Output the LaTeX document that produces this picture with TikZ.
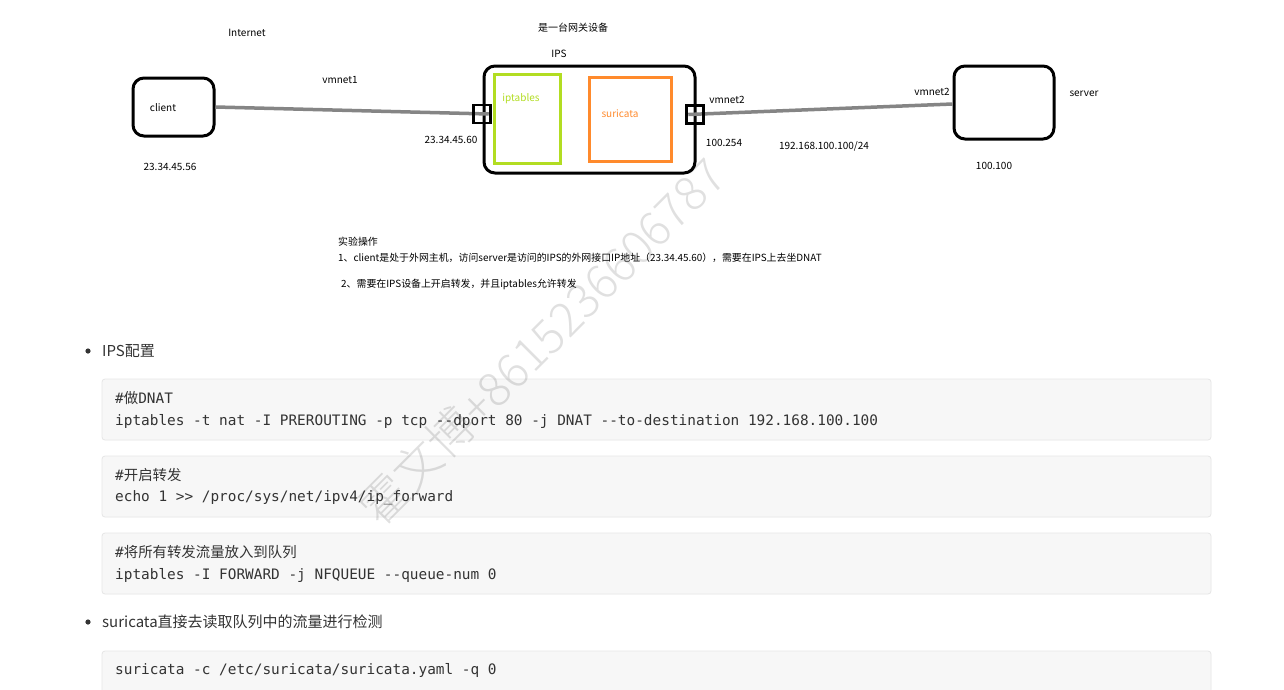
\documentclass[tikz,border=0pt]{standalone}
\usepackage{fontspec}
\setmainfont{Noto Sans CJK SC}
\newfontfamily\cjk{Noto Sans CJK SC}
\newfontfamily\wmfont{Noto Sans CJK SC Light}
\newfontfamily\codefont{DejaVu Sans Mono}
\definecolor{lime}{HTML}{B2DD22}
\definecolor{orng}{HTML}{FF8A2C}
\definecolor{wire}{HTML}{858585}
\definecolor{codebg}{HTML}{F7F7F7}
\definecolor{codeln}{HTML}{E6E6E6}
\definecolor{txt}{HTML}{333333}
\begin{document}
\begin{tikzpicture}[x=1pt,y=-1pt,
  dev/.style={draw=black,line width=3pt,rounded corners=11pt,inner sep=0pt},
  inbox/.style={line width=3pt,inner sep=0pt},
  port/.style={draw=black,line width=2.5pt,inner sep=0pt,minimum width=17pt,minimum height=18pt},
  lbl/.style={font=\fontsize{10}{12}\selectfont,inner sep=0pt},
  cablestyle/.style={draw=wire,line width=3.5pt},
  codebox/.style={draw=codeln,fill=codebg,line width=0.8pt,rounded corners=3pt},
  code/.style={font=\codefont\fontsize{14.4}{16}\selectfont,text=txt,anchor=west,inner sep=0pt},
  body/.style={font=\fontsize{15}{18}\selectfont,text=txt,anchor=west,inner sep=0pt},
  note/.style={font=\fontsize{9.9}{12}\selectfont,anchor=west,inner sep=0pt}]
\useasboundingbox (0,0) rectangle (1284,689);
\fill[white] (0,0) rectangle (1284,689);

% devices
\node[dev,minimum width=81pt,minimum height=58pt] (client) at (173.5,107) {};
\node[lbl] (clientlbl) at (163,108) {client};
\node[lbl] (clientip) at (170,167) {23.34.45.56};
\node[lbl] (internet) at (247,33) {Internet};
\node[lbl] (vm1) at (340,80) {vmnet1};

\node[dev,minimum width=211pt,minimum height=107pt] (ips) at (589.5,119.5) {};
\node[lbl] (ipslbl) at (559,54) {IPS};
\node[lbl] (gw) at (573,28) {是一台网关设备};
\node[inbox,draw=lime,minimum width=66pt,minimum height=89pt] (iptables) at (527,118.5) {};
\node[lbl,text=lime] (iptlbl) at (521,99) {iptables};
\node[inbox,draw=orng,minimum width=82pt,minimum height=84pt] (suricata) at (630,119) {};
\node[lbl,text=orng] (surlbl) at (620,114) {suricata};

\node[dev,minimum width=100pt,minimum height=73pt] (server) at (1004,102.5) {};
\node[lbl] (serverlbl) at (1084,94) {server};
\node[lbl] (serverip) at (994,166) {100.100};
\node[lbl] (vm2b) at (932,92) {vmnet2};

\node[lbl] (ipl) at (451,140) {23.34.45.60};
\node[lbl] (vm2a) at (727,100) {vmnet2};
\node[lbl] (ipr) at (724,143) {100.254};
\node[lbl] (net2) at (824,146) {192.168.100.100/24};

% cables
\path (482,114) node[port] (portL) {};
\path (695,114.5) node[port] (portR) {};
\draw[cablestyle] (client.east) -- ([xshift=-3pt]portL.east);
\draw[cablestyle] ([xshift=3pt]portR.west) -- (server.west |- 0,104);
\node[port] at (portL) {};
\node[port] at (portR) {};

% notes
\node[note] (n0) at (338,242) {实验操作};
\node[note] (n1) at (338,258) {1、client是处于外网主机，访问server是访问的IPS的外网接口IP地址（23.34.45.60），需要在IPS上去坐DNAT};
\node[note] (n2) at (341,284) {2、需要在IPS设备上开启转发，并且iptables允许转发};

% body
\fill[txt] (88,351) circle (2.6pt);
\node[body] (b1) at (102,351) {IPS配置};

\draw[codebox] (102,379) rectangle (1211,440);
\node[code] (c1a) at (115,398) {\#{\cjk 做}DNAT};
\node[code] (c1b) at (115,421) {iptables -t nat -I PREROUTING -p tcp --dport 80 -j DNAT --to-destination 192.168.100.100};

\draw[codebox] (102,456) rectangle (1211,517);
\node[code] (c2a) at (115,475) {\#{\cjk 开启转发}};
\node[code] (c2b) at (115,498) {echo 1 >> /proc/sys/net/ipv4/ip\_forward};

\draw[codebox] (102,533) rectangle (1211,594);
\node[code] (c3a) at (115,552) {\#{\cjk 将所有转发流量放入到队列}};
\node[code] (c3b) at (115,575) {iptables -I FORWARD -j NFQUEUE --queue-num 0};

\fill[txt] (88,622) circle (2.6pt);
\node[body] (b2) at (102,622) {suricata直接去读取队列中的流量进行检测};

\draw[codebox] (102,651) rectangle (1211,700);
\node[code] (c4a) at (115,670) {suricata -c /etc/suricata/suricata.yaml -q 0};

% watermark
\node[rotate=45,text=black,opacity=0.12,font=\wmfont\fontsize{47}{52}\selectfont,inner sep=0pt] (wm) at (542,341) {霍文博+8615236606787};
\end{tikzpicture}
\end{document}
